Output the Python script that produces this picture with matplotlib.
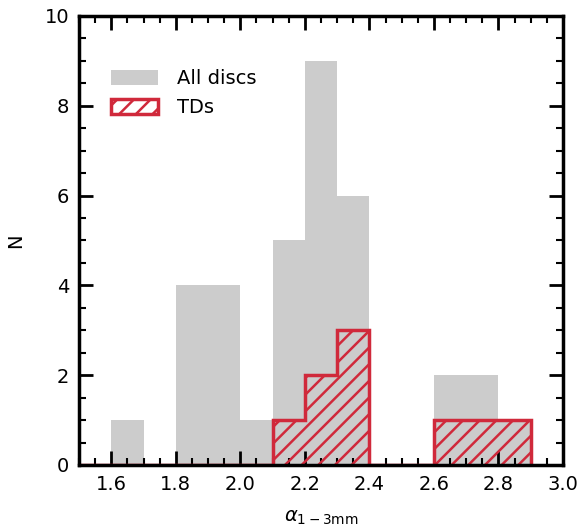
import numpy as np
import matplotlib.pyplot as plt
from matplotlib.ticker import MultipleLocator

# counts per 0.1-wide bin, from 1.5 to 2.9
bins = np.round(np.arange(1.5, 2.95, 0.1), 2)
all_counts = [0, 1, 0, 4, 4, 1, 5, 9, 6, 0, 0, 2, 2, 0]
td_counts = [0, 0, 0, 0, 0, 0, 1, 2, 3, 0, 0, 1, 1, 1]

centers = bins[:-1] + 0.05
red = '#d0293b'
grey = '#cccccc'

plt.rcParams['hatch.linewidth'] = 1.8
fig = plt.figure(figsize=(5.81, 5.29), dpi=100)
ax = fig.add_axes([0.136, 0.121, 0.833, 0.849])

ax.hist(centers, bins=bins, weights=all_counts, color=grey, label='All discs')
ax.hist(centers, bins=bins, weights=td_counts, histtype='stepfilled', color=grey)
ax.hist(centers, bins=bins, weights=td_counts, histtype='step', color=red,
        lw=2.5, hatch='//', label='TDs')

ax.set_xlim(1.5, 3.0)
ax.set_ylim(0, 10)
ax.xaxis.set_major_locator(MultipleLocator(0.2))
ax.xaxis.set_minor_locator(MultipleLocator(0.05))
ax.yaxis.set_major_locator(MultipleLocator(2))
ax.yaxis.set_minor_locator(MultipleLocator(0.5))
ax.tick_params(which='both', direction='in', top=True, right=True, labelsize=14)
ax.tick_params(which='major', length=10, width=2, pad=7)
ax.tick_params(which='minor', length=5, width=1.5)
for s in ax.spines.values():
    s.set_linewidth(2.5)

ax.set_xlabel(r'$\alpha_{1-3\mathrm{mm}}$', fontsize=14, labelpad=10)
ax.set_ylabel('N', fontsize=14, labelpad=14)
ax.legend(loc='upper left', frameon=False, fontsize=14, handlelength=2.4,
          handleheight=0.85, handletextpad=1.0, labelspacing=0.5,
          bbox_to_anchor=(0.03, 0.92))

fig.savefig('out.png', dpi=100)
